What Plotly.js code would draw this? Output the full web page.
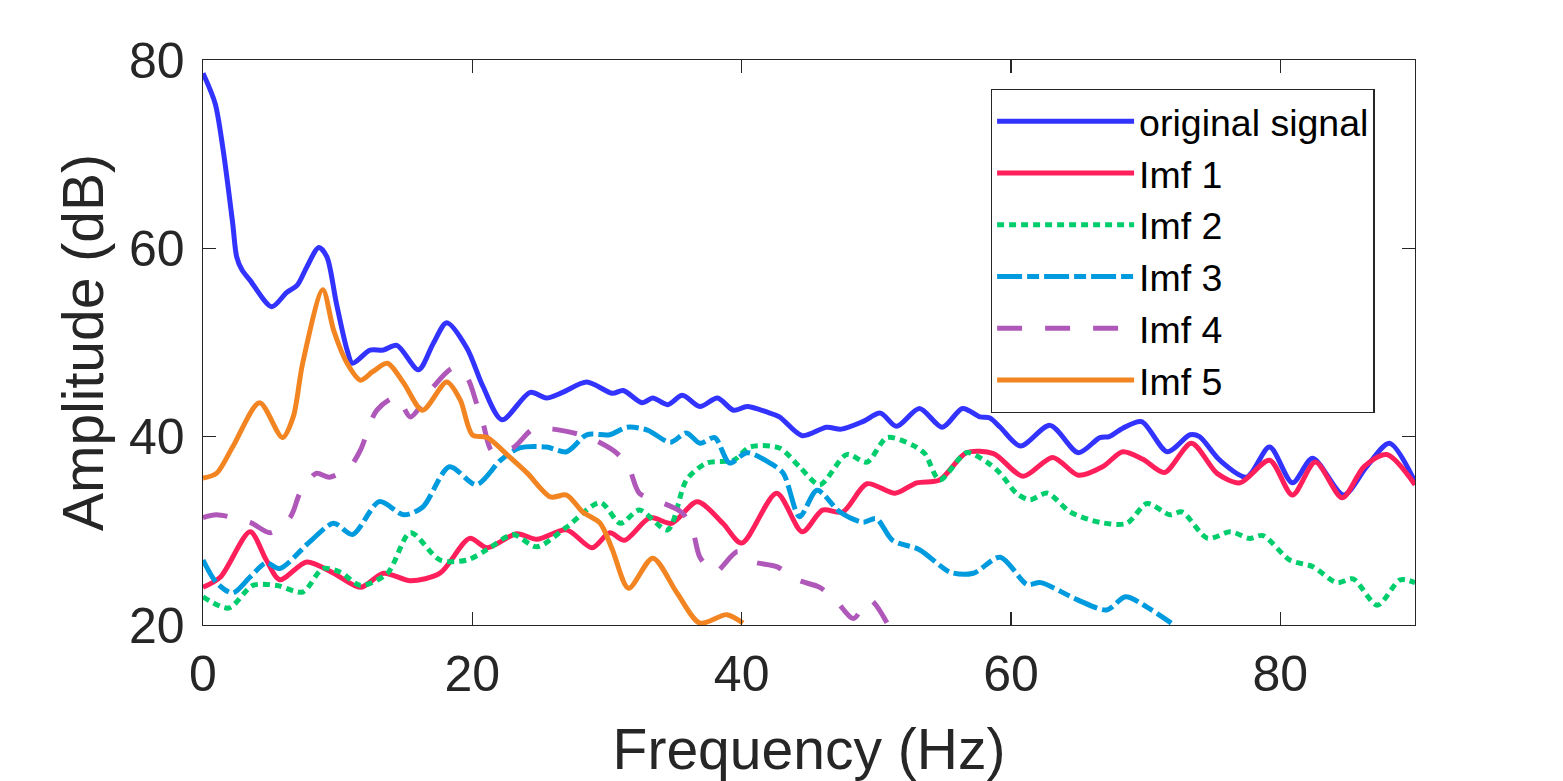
<!DOCTYPE html>
<html>
<head>
<meta charset="utf-8">
<script src="https://cdn.plot.ly/plotly-3.0.1.min.js"></script>
<style>
  html, body { margin: 0; padding: 0; background: #ffffff; }
  #chart { width: 1563px; height: 781px; }
</style>
</head>
<body>
<div id="chart"></div>
<script>
// ---- data (frequency in Hz, amplitude in dB) ----
var seriesNames = ["original signal", "Imf 1", "Imf 2", "Imf 3", "Imf 4", "Imf 5"];

var origFreq = [0,0.9,1.5,2.2,2.5,2.9,3.5,5.1,6.2,7.0,7.7,8.6,9.2,9.9,10.7,11.1,12.4,13.4,14.4,16.0,17.1,18.1,19.6,20.8,22.2,24.3,25.5,26.7,28.5,30.4,31.2,32.6,33.4,34.5,35.6,36.9,38.2,39.4,40.4,41.9,42.8,44.5,46.3,47.4,49.0,50.3,51.5,53.2,54.9,56.4,57.7,58.4,59.2,60.7,62.9,65.0,66.6,67.3,68.3,69.7,71.6,73.3,74.0,75.5,77.5,79.2,80.9,82.4,84.7,86.4,88.1,90];
var origAmp  = [78.6,75.4,70.4,62.7,59.1,57.7,56.6,53.8,55.3,56.1,58.0,60.1,59.1,54.2,49.2,47.8,49.2,49.2,49.7,47.1,49.9,52.1,49.4,45.3,41.8,44.7,44.1,44.7,45.8,44.6,44.9,43.6,44.1,43.4,44.4,43.2,44.1,42.8,43.2,42.6,42.1,40.1,41.0,40.8,41.6,42.5,41.1,43.0,41.0,43.0,42.1,42.0,41.0,39.0,41.2,38.3,39.9,40.0,40.9,41.6,38.4,40.2,40.0,37.5,35.7,38.9,35.1,37.7,33.8,36.8,39.3,35.2];

var imf1Freq = [0,1.3,3.5,4.7,5.7,7.7,9.7,11.7,13.4,15.4,17.6,19.8,21.1,23.3,24.8,27.0,28.9,30.2,31.3,33.2,34.8,36.7,38.6,40.0,42.6,44.5,46.0,47.5,49.3,51.4,53.0,54.7,56.7,58.7,60.9,63.1,65.0,66.8,68.3,69.8,71.4,73.4,75.3,77.0,79.2,80.9,82.6,84.6,86.2,87.9,90];
var imf1Amp  = [24.0,25.1,29.9,26.9,24.8,26.7,25.5,24.0,25.5,24.7,25.5,29.2,28.2,29.7,29.1,30.1,28.2,29.8,29.0,31.4,30.8,33.1,30.8,28.7,34.0,29.9,32.2,32.0,35.0,34.0,35.1,35.4,38.3,38.2,35.8,37.8,35.9,36.8,38.4,37.6,36.2,39.3,36.1,35.1,37.5,33.8,37.3,33.5,36.8,38.1,34.9];

var imf2Freq = [0,1.9,3.7,5.5,7.4,8.9,10.2,11.7,13.7,15.4,17.6,19.6,21.1,23.0,24.8,27.0,29.5,31.0,32.4,34.5,35.9,37.4,39.4,40.6,42.8,44.3,45.8,47.8,49.3,50.8,52.7,53.6,54.7,56.7,58.2,59.2,60.4,61.4,62.7,64.4,66.6,68.6,70.1,71.8,72.7,74.6,76.3,77.7,78.7,80.7,82.4,84.2,85.4,87.2,88.9,90];
var imf2Amp  = [23.0,21.8,24.2,24.2,23.5,26.0,25.6,24.2,25.5,29.8,26.9,26.9,28.0,29.6,28.3,30.4,33.0,30.8,32.2,30.1,35.4,37.2,37.5,38.9,38.8,36.8,34.9,38.1,37.3,39.9,39.1,38.2,35.4,38.3,37.3,36.1,34.0,33.3,34.0,32.0,30.9,30.8,32.9,31.7,32.0,29.2,29.9,29.2,29.5,26.9,26.2,24.5,24.9,22.1,24.8,24.5];

var imf3Freq = [0,1.0,2.2,3.5,4.7,5.7,7.9,9.7,11.1,13.1,14.9,16.3,18.3,20.3,22.1,23.5,25.5,27.0,28.5,30.2,31.5,33.0,34.7,35.9,36.9,38.0,39.1,40.4,42.1,43.1,44.3,45.6,47.3,49.0,50.0,51.2,53.2,55.5,57.2,59.2,61.2,62.2,64.9,67.1,68.5,70.1,71.9];
var imf3Amp  = [26.9,24.5,23.4,25.1,26.6,26.0,28.8,30.8,29.6,33.1,31.7,32.5,36.8,34.9,37.5,38.8,38.9,38.4,40.2,40.2,41.0,40.7,39.4,40.4,39.3,39.9,37.2,38.3,37.2,36.1,31.5,34.3,32.0,30.9,31.3,29.0,28.0,25.6,25.5,27.2,24.3,24.5,22.7,21.6,23.0,21.9,20.2];

var imf4Freq = [0,1.0,3.5,5.0,6.5,7.2,8.4,9.4,10.9,11.7,12.9,14.4,15.4,17.1,18.6,19.6,20.3,20.8,21.5,23.0,24.5,26.0,28.5,30.6,31.6,32.4,33.9,35.6,36.4,36.9,38.0,39.7,40.9,42.6,44.1,45.8,47.1,48.3,49.5,50.8];
var imf4Amp  = [31.4,31.7,30.9,29.8,31.5,34.0,36.1,35.7,36.8,38.6,42.8,44.2,42.1,45.3,47.3,46.3,43.6,41.4,38.4,38.8,40.8,40.8,40.0,38.4,36.8,34.0,33.1,31.9,29.8,27.2,25.6,27.8,26.7,26.2,24.8,24.0,22.4,20.7,22.7,20.2];

var imf5Freq = [0,1.0,2.2,4.2,5.9,6.7,7.4,8.9,9.7,10.7,11.7,12.6,13.7,14.9,16.3,18.1,19.1,20.0,21.1,22.8,24.1,25.8,27.0,28.2,29.5,30.4,31.6,33.4,35.2,36.9,38.9,40.1];
var imf5Amp  = [35.6,36.1,38.9,43.6,39.9,42.1,47.8,55.6,51.3,47.8,46.0,46.9,47.8,45.7,42.8,45.8,43.9,40.2,39.9,37.8,36.1,33.6,33.8,32.0,30.8,28.0,23.9,27.1,23.4,20.2,21.1,20.2];

var xTickVals = [0, 20, 40, 60, 80];
var xTickText = ["0", "20", "40", "60", "80"];
var yTickVals = [20, 40, 60, 80];
var yTickText = ["20", "40", "60", "80"];

// ---- styles ----
var colors = ["#3333FF", "#FF1F5B", "#00CD6C", "#009ADE", "#AF58BA", "#F28522"];
var dashes = ["solid", "solid", "7px,5px", "25px,5px,12px,5px", "25px,23px", "solid"];
var xs = [origFreq, imf1Freq, imf2Freq, imf3Freq, imf4Freq, imf5Freq];
var ys = [origAmp, imf1Amp, imf2Amp, imf3Amp, imf4Amp, imf5Amp];

var FONT = "Liberation Sans, Arial, Helvetica, sans-serif";
var AXC = "#262626";

var traces = [];
for (var i = 0; i < seriesNames.length; i++) {
  traces.push({
    type: "scatter",
    mode: "lines",
    name: seriesNames[i],
    x: xs[i],
    y: ys[i],
    line: { color: colors[i], width: 5, dash: dashes[i], shape: "spline", smoothing: 0.8 },
    hoverinfo: "skip"
  });
}

var layout = {
  width: 1563,
  height: 781,
  margin: { l: 203, r: 148, t: 60, b: 156, pad: 0 },
  paper_bgcolor: "#ffffff",
  plot_bgcolor: "#ffffff",
  font: { family: FONT, color: AXC },
  showlegend: true,
  legend: {
    x: 0.650, y: 0.9487, xanchor: "left", yanchor: "top",
    bgcolor: "#ffffff", bordercolor: AXC, borderwidth: 1.3,
    font: { family: FONT, size: 37.5, color: "#000000" },
    itemwidth: 137,
    tracegroupgap: 0
  },
  xaxis: {
    range: [0, 90],
    tickmode: "array", tickvals: xTickVals, ticktext: xTickText,
    ticks: "inside", ticklen: 13, tickwidth: 1.3, tickcolor: AXC,
    showline: true, linecolor: AXC, linewidth: 1.3, mirror: "ticks",
    showgrid: false, zeroline: false,
    tickfont: { family: FONT, size: 50, color: AXC },
    ticklabelstandoff: 5,
    automargin: false,
    title: { text: "Frequency (Hz)", font: { family: FONT, size: 57, color: AXC }, standoff: 31 }
  },
  yaxis: {
    range: [20, 80],
    tickmode: "array", tickvals: yTickVals, ticktext: yTickText,
    ticks: "inside", ticklen: 13, tickwidth: 1.3, tickcolor: AXC,
    showline: true, linecolor: AXC, linewidth: 1.3, mirror: "ticks",
    showgrid: false, zeroline: false,
    tickfont: { family: FONT, size: 50, color: AXC },
    ticklabelstandoff: 7,
    automargin: false,
    title: { text: "Amplitude (dB)", font: { family: FONT, size: 57, color: AXC }, standoff: 7 }
  }
};

Plotly.newPlot("chart", traces, layout, { staticPlot: true, displayModeBar: false });
</script>
</body>
</html>
